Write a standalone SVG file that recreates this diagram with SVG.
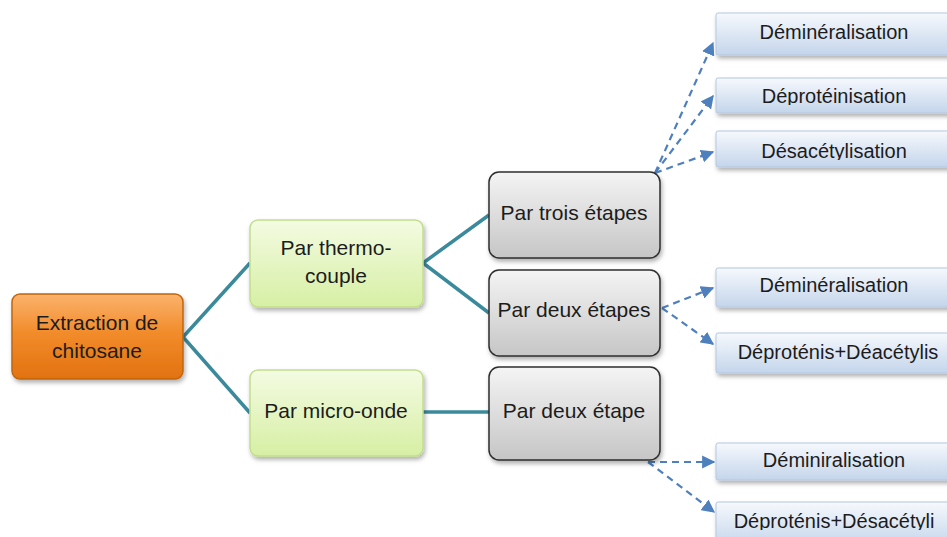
<svg xmlns="http://www.w3.org/2000/svg" width="947" height="537" viewBox="0 0 947 537">
  <defs>
    <linearGradient id="gOrange" x1="0" y1="0" x2="0" y2="1">
      <stop offset="0" stop-color="#fbb36c"/>
      <stop offset="0.45" stop-color="#f28c2c"/>
      <stop offset="1" stop-color="#e2720f"/>
    </linearGradient>
    <linearGradient id="gGreen" x1="0" y1="0" x2="0" y2="1">
      <stop offset="0" stop-color="#f4fbe2"/>
      <stop offset="1" stop-color="#d6efa4"/>
    </linearGradient>
    <linearGradient id="gGray" x1="0" y1="0" x2="0" y2="1">
      <stop offset="0" stop-color="#f4f4f4"/>
      <stop offset="1" stop-color="#c6c6c6"/>
    </linearGradient>
    <linearGradient id="gBlue" x1="0" y1="0" x2="0" y2="1">
      <stop offset="0" stop-color="#f6f9fd"/>
      <stop offset="1" stop-color="#c4d5eb"/>
    </linearGradient>
    <filter id="shadow" x="-10%" y="-10%" width="125%" height="140%">
      <feDropShadow dx="1.5" dy="3" stdDeviation="2" flood-color="#000" flood-opacity="0.3"/>
    </filter>
    <marker id="arrow" viewBox="0 0 10 10" refX="9" refY="5" markerWidth="6" markerHeight="6" orient="auto" markerUnits="strokeWidth">
      <path d="M0,0 L10,5 L0,10 z" fill="#4f80be"/>
    </marker>
    <!-- text frames that crop descenders in the tight step boxes -->
    <clipPath id="clipS2"><rect x="716" y="78" width="250" height="27"/></clipPath>
    <clipPath id="clipS3"><rect x="716" y="131" width="250" height="29"/></clipPath>
    <clipPath id="clipS7"><rect x="716" y="502" width="250" height="28"/></clipPath>
    <style>
      .txt { font-family: "Liberation Sans", Arial, sans-serif; font-size: 21px; fill: #1c1c1c; text-anchor: middle; }
      .btxt { font-family: "Liberation Sans", Arial, sans-serif; font-size: 20px; fill: #1c1c1c; text-anchor: middle; }
      .orange { fill: url(#gOrange); stroke: #c0650f; stroke-width: 1.5; filter: url(#shadow); }
      .green { fill: url(#gGreen); stroke: #c2de8c; stroke-width: 1.5; filter: url(#shadow); }
      .gray { fill: url(#gGray); stroke: #2e2e2e; stroke-width: 1.5; filter: url(#shadow); }
      .blue { fill: url(#gBlue); stroke: #b5c7df; stroke-width: 1; filter: url(#shadow); }
      .solid { fill: none; stroke: #3b8a9c; stroke-width: 3.5; }
      .dash { fill: none; stroke: #4f80be; stroke-width: 2.2; stroke-dasharray: 7 5; marker-end: url(#arrow); }
    </style>
  </defs>

  <!-- connectors -->
  <g id="connectors">
    <polyline class="solid" points="250,263 183,337 250,413"/>
    <polyline class="solid" points="489,215 423,263 489,313"/>
    <line class="solid" x1="423" y1="412" x2="489" y2="412"/>
    <line class="dash" x1="655" y1="173" x2="713" y2="43"/>
    <line class="dash" x1="655" y1="173" x2="713" y2="96"/>
    <line class="dash" x1="655" y1="173" x2="713" y2="152"/>
    <line class="dash" x1="662" y1="308" x2="713" y2="288"/>
    <line class="dash" x1="662" y1="308" x2="713" y2="344"/>
    <line class="dash" x1="648" y1="462" x2="714" y2="462"/>
    <line class="dash" x1="648" y1="462" x2="714" y2="512"/>
  </g>

  <!-- root -->
  <g id="root">
    <rect class="orange" x="12" y="294" width="171" height="85" rx="8"/>
    <text class="txt" x="97" y="330">Extraction de</text>
    <text class="txt" x="97" y="358">chitosane</text>
  </g>

  <!-- methods -->
  <g id="thermo">
    <rect class="green" x="250" y="220" width="173" height="87" rx="8"/>
    <text class="txt" x="336" y="255">Par thermo-</text>
    <text class="txt" x="336" y="283">couple</text>
  </g>
  <g id="micro">
    <rect class="green" x="250" y="370" width="173" height="86" rx="8"/>
    <text class="txt" x="336" y="418">Par micro-onde</text>
  </g>

  <!-- step counts -->
  <g id="trois">
    <rect class="gray" x="489" y="172" width="171" height="86" rx="10"/>
    <text class="txt" x="574" y="220">Par trois étapes</text>
  </g>
  <g id="deux">
    <rect class="gray" x="489" y="270" width="171" height="86" rx="10"/>
    <text class="txt" x="574" y="317">Par deux étapes</text>
  </g>
  <g id="deux2">
    <rect class="gray" x="489" y="367" width="171" height="93" rx="10"/>
    <text class="txt" x="574" y="418">Par deux étape</text>
  </g>

  <!-- steps -->
  <g id="s1">
    <rect class="blue" x="716" y="13" width="250" height="42" rx="2"/>
    <text class="btxt" x="834" y="39">Déminéralisation</text>
  </g>
  <g id="s2">
    <rect class="blue" x="716" y="78" width="250" height="35" rx="2"/>
    <text class="btxt" x="834" y="103" clip-path="url(#clipS2)">Déprotéinisation</text>
  </g>
  <g id="s3">
    <rect class="blue" x="716" y="131" width="250" height="36" rx="2"/>
    <text class="btxt" x="834" y="158" clip-path="url(#clipS3)">Désacétylisation</text>
  </g>
  <g id="s4">
    <rect class="blue" x="716" y="268" width="250" height="39" rx="2"/>
    <text class="btxt" x="834" y="292">Déminéralisation</text>
  </g>
  <g id="s5">
    <rect class="blue" x="716" y="333" width="250" height="40" rx="2"/>
    <text class="btxt" x="838" y="359">Déproténis+Déacétylis</text>
  </g>
  <g id="s6">
    <rect class="blue" x="716" y="443" width="250" height="37" rx="2"/>
    <text class="btxt" x="834" y="467">Déminiralisation</text>
  </g>
  <g id="s7">
    <rect class="blue" x="716" y="502" width="250" height="45" rx="2"/>
    <text class="btxt" x="834" y="528" clip-path="url(#clipS7)">Déproténis+Désacétyli</text>
  </g>
</svg>
